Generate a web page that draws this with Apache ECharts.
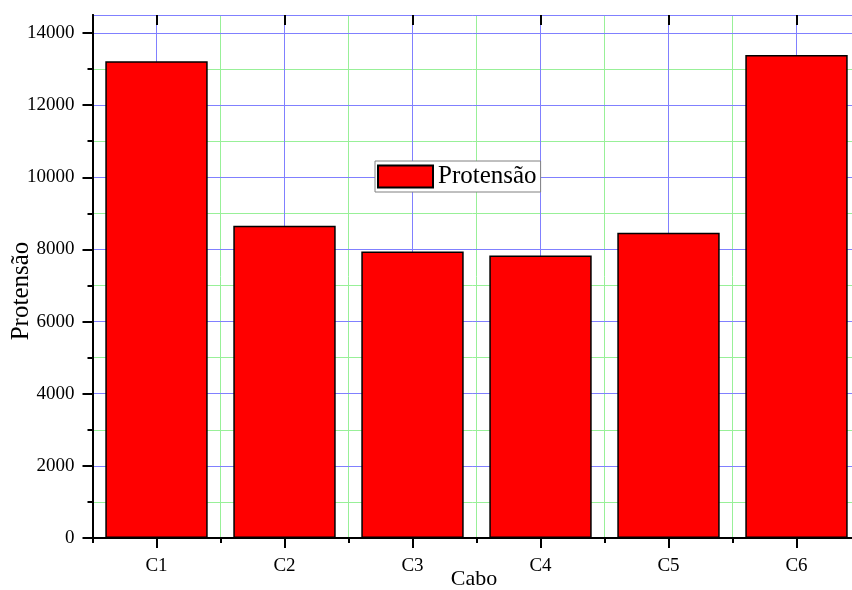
<!DOCTYPE html>
<html>
<head>
<meta charset="utf-8">
<script src="https://cdn.jsdelivr.net/npm/echarts@6/dist/echarts.min.js"></script>
<style>html,body{margin:0;padding:0;background:#fff}#c{width:852px;height:590px}</style>
</head>
<body>
<div id="c"></div>
<script>
const categories = ['C1', 'C2', 'C3', 'C4', 'C5', 'C6'];
const protensao = [13220, 8660, 7940, 7830, 8460, 13390];
const majorTicks = [0, 2000, 4000, 6000, 8000, 10000, 12000, 14000];
const minorTicks = [1000, 3000, 5000, 7000, 9000, 11000, 13000];
const seriesName = 'Protensão';
const xName = 'Cabo';
const yName = 'Protensão';

const FONT = 'Liberation Serif';
const BLUE = '#8080ff';
const GREEN = '#98f098';
const AXW = 2;

// helper x scale: two units per category (boundaries at even values)
const nCat = categories.length;

const chart = echarts.init(document.getElementById('c'), null, {renderer: 'canvas'});
const hid = () => ({show: false});
const tickAxis = (position, inside, showLine) => ({
  type: 'value', min: 0, max: 2 * nCat, interval: 2, position: position,
  axisLine: {show: showLine, lineStyle: {color: '#000', width: AXW}},
  axisTick: {show: true, inside: inside, length: 5, lineStyle: {color: '#000', width: AXW}},
  axisLabel: hid(),
  splitLine: hid(), z: 5
});

// centre ticks on the top frame axis, placed through the category scale
function topCentreTicks(params, api) {
  const cs = params.coordSys;
  const x = Math.round(api.coord([api.value(0), 0])[0]);
  const yt = cs.y;
  return {type: 'line', shape: {x1: x, y1: yt, x2: x, y2: yt + 10},
          style: {stroke: '#000', lineWidth: AXW, fill: null}};
}

const graphics = [
  {type: 'text', x: 474, y: 579, z: 10,
   style: {text: xName, font: '22px "Liberation Serif"', fill: '#000', align: 'center', verticalAlign: 'middle'}},
  {type: 'text', x: 21, y: 291, rotation: Math.PI / 2, z: 10,
   style: {text: yName, font: '25px "Liberation Serif"', fill: '#000', align: 'center', verticalAlign: 'middle'}}
];

chart.setOption({
  animation: false,
  backgroundColor: '#fff',
  grid: {left: 92.5, top: 15, right: -8.5, bottom: 52, containLabel: false, outerBoundsMode: 'none'},
  graphic: graphics,
  legend: {
    data: [seriesName],
    left: 375, top: 161,
    orient: 'horizontal',
    icon: 'rect',
    itemWidth: 55, itemHeight: 22,
    padding: [3, 4, 3, 2],
    borderColor: '#808080', borderWidth: 1,
    backgroundColor: '#fff',
    textStyle: {fontFamily: FONT, fontSize: 25, color: '#000'}
  },
  xAxis: [
    {
      type: 'category', data: categories, position: 'bottom',
      axisLine: {show: true, lineStyle: {color: '#000', width: AXW}},
      axisTick: {show: true, alignWithLabel: true, inside: false, length: 10, lineStyle: {color: '#000', width: AXW}},
      axisLabel: {fontFamily: FONT, fontSize: 19, color: '#000', margin: 19},
      splitLine: hid(), z: 6
    },
    tickAxis('bottom', false, false),
    tickAxis('top', true, true),
    {
      type: 'value', min: 0, max: 2 * nCat, interval: 1, position: 'bottom',
      axisLine: hid(), axisTick: hid(), axisLabel: hid(),
      splitLine: {show: true, lineStyle: {color: [GREEN, BLUE], width: 1}}
    }
  ],
  yAxis: [
    {
      type: 'value', min: 0, max: 14500, position: 'left',
      axisLine: {show: true, lineStyle: {color: '#000', width: AXW}},
      axisTick: {show: true, length: 10, inside: false, customValues: majorTicks, lineStyle: {color: '#000', width: AXW}},
      axisLabel: {fontFamily: FONT, fontSize: 19, color: '#000', margin: 18, customValues: majorTicks,
                  formatter: v => String(v)},
      splitLine: hid(), z: 5
    },
    {
      type: 'value', min: 0, max: 14500, position: 'left',
      axisLine: hid(),
      axisTick: {show: true, length: 5, inside: false, customValues: minorTicks, lineStyle: {color: '#000', width: AXW}},
      axisLabel: {show: false, customValues: minorTicks},
      splitLine: hid(), z: 5
    },
    {
      type: 'value', min: 0, max: 14500, interval: 1000, position: 'right',
      axisLine: {show: true, lineStyle: {color: '#000', width: AXW}},
      axisTick: hid(), axisLabel: hid(),
      splitLine: {show: true, lineStyle: {color: GREEN, width: 1}}, z: 0
    },
    {
      type: 'value', min: 0, max: 14500, interval: 2000, position: 'right',
      axisLine: hid(), axisTick: hid(), axisLabel: hid(),
      splitLine: {show: true, lineStyle: {color: BLUE, width: 1}}, z: 1
    }
  ],
  series: [
    {
      name: seriesName,
      type: 'bar',
      xAxisIndex: 0, yAxisIndex: 0,
      data: protensao,
      barCategoryGap: '20%',
      z: 3,
      itemStyle: {color: '#ff0000', borderColor: '#000', borderWidth: 1.5}
    },
    {
      name: 'top ticks',
      type: 'custom',
      coordinateSystem: 'cartesian2d',
      xAxisIndex: 0, yAxisIndex: 0,
      data: categories.map(c => [c, 0]),
      renderItem: topCentreTicks,
      clip: false, silent: true, z: 6,
      tooltip: {show: false}
    }
  ]
});

// bottom centre ticks, positioned through the category axis scale
try {
  const y0 = chart.convertToPixel({yAxisIndex: 0}, 0);
  const extra = categories.map(c => {
    const x = Math.round(chart.convertToPixel({xAxisIndex: 0}, c));
    return {type: 'line', z: 20, silent: true,
            shape: {x1: x, y1: y0, x2: x, y2: y0 + 10},
            style: {stroke: '#000', lineWidth: AXW}};
  });
  chart.setOption({graphic: graphics.concat(extra)});
} catch (e) {}
</script>
</body>
</html>
